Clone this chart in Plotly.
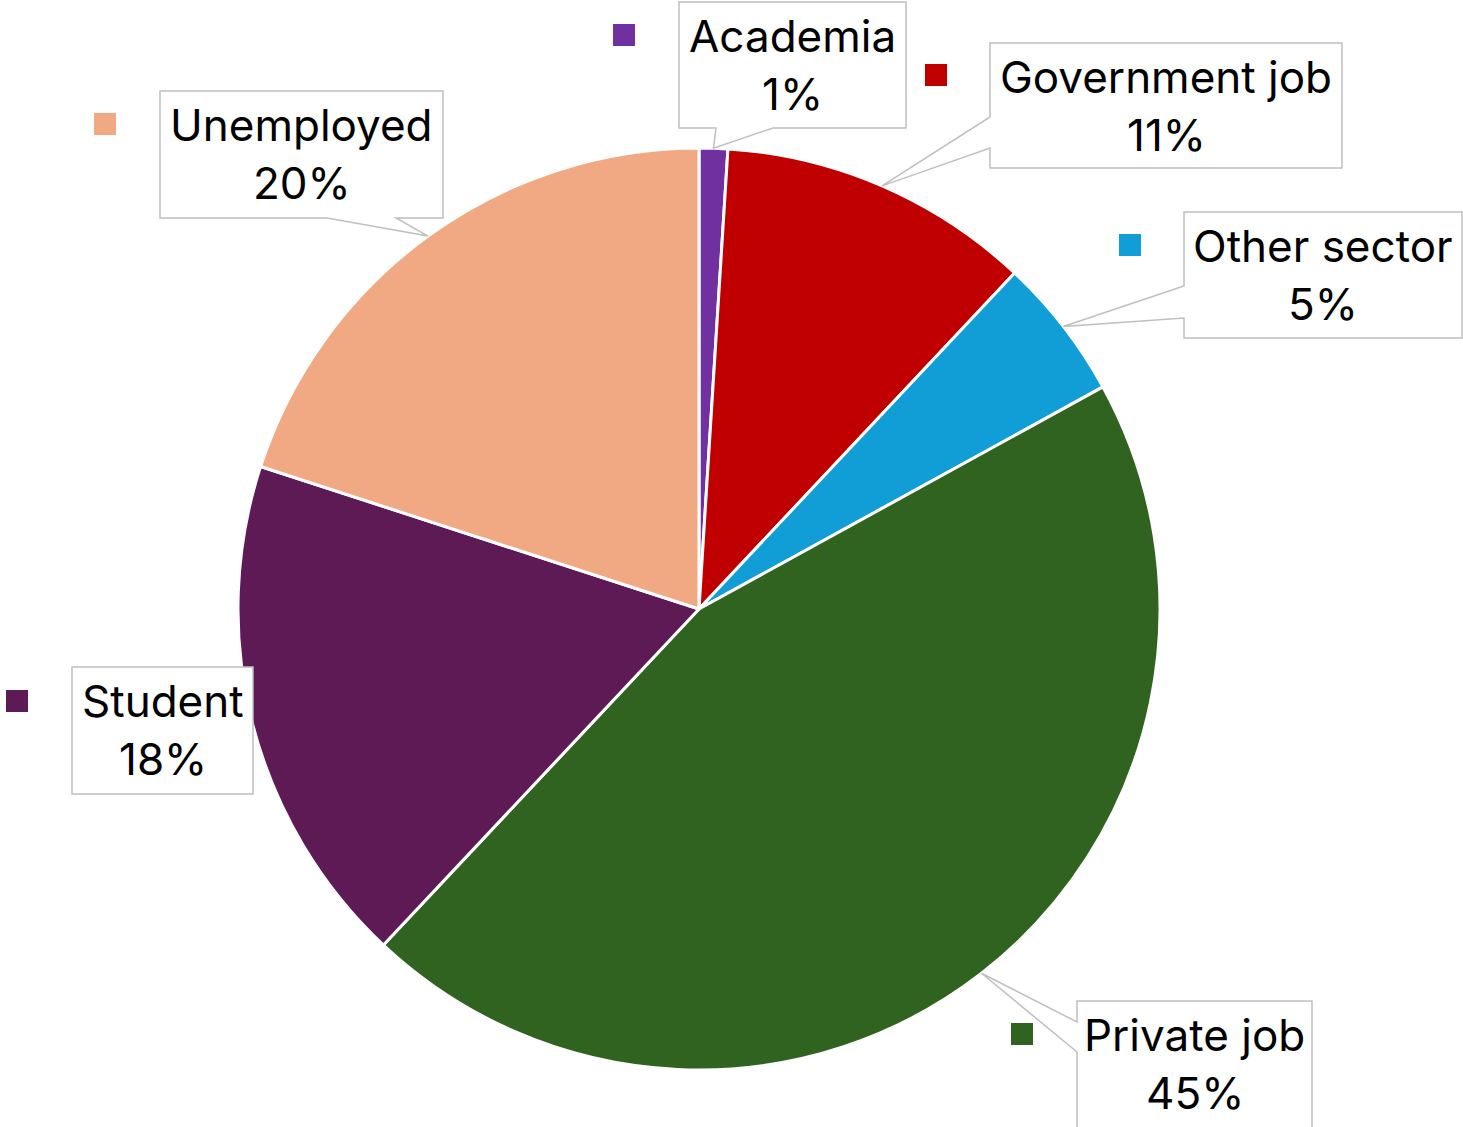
import math
import plotly.graph_objects as go

# Occupation breakdown (percent of respondents)
categories = ["Academia", "Government job", "Other sector", "Private job", "Student", "Unemployed"]
shares = [1, 11, 5, 45, 18, 20]
colors = ["#7030A0", "#C00000", "#119ED6", "#306320", "#5E1A55", "#F1A983"]

W, H = 1463, 1127
CX, CY, R = 699, 609, 461  # pie centre and radius in pixels

# Callout boxes (pixel coords) and where their pointer leaves the box
callouts = {
    "Academia":       dict(box=(679, 2, 906, 128),      side="bottom", base=(716, 773)),
    "Government job": dict(box=(990, 43, 1342, 168),    side="left",   base=(117, 148)),
    "Other sector":   dict(box=(1184, 212, 1462, 338),  side="left",   base=(286, 318)),
    "Private job":    dict(box=(1077, 1001, 1312, 1140), side="left",  base=(1022, 1052)),
    "Student":        dict(box=(72, 667, 253, 794),     side=None,     base=None),
    "Unemployed":     dict(box=(160, 91, 443, 218),     side="bottom", base=(327, 396)),
}
# Legend key squares beside each callout (top-left pixel corner)
keys = {
    "Academia": (613, 24), "Government job": (925, 64), "Other sector": (1119, 234),
    "Private job": (1011, 1023), "Student": (6, 690), "Unemployed": (94, 113),
}
KEY = 22
FONT = dict(family="Inter, Roboto, sans-serif", size=44, color="black")


def px(x):
    return x / W


def py(y):
    return 1 - y / H


fig = go.Figure(go.Pie(
    labels=categories,
    values=shares,
    sort=False,
    direction="clockwise",
    rotation=0,
    marker=dict(colors=colors, line=dict(color="white", width=3)),
    textinfo="none",
    hoverinfo="label+percent",
    showlegend=False,
    domain=dict(x=[(CX - R) / W, (CX + R) / W], y=[1 - (CY + R) / H, 1 - (CY - R) / H]),
))

total = sum(shares)
cum = 0
shapes = []
annotations = []
for name, v, col in zip(categories, shares, colors):
    theta = 2 * math.pi * (cum + v / 2) / total
    cum += v
    tip = (CX + R * math.sin(theta), CY - R * math.cos(theta))
    c = callouts[name]
    x0, y0, x1, y1 = c["box"]
    pts = [(x0, y0), (x1, y0), (x1, y1)]
    if c["side"] == "bottom":
        a, b = c["base"]
        pts += [(b, y1), tip, (a, y1), (x0, y1)]
    elif c["side"] == "left":
        a, b = c["base"]
        pts += [(x0, y1), (x0, b), tip, (x0, a)]
    else:
        pts += [(x0, y1)]
    path = "M " + " L ".join(f"{px(x):.5f},{py(y):.5f}" for x, y in pts) + " Z"
    shapes.append(dict(type="path", xref="paper", yref="paper", path=path,
                       fillcolor="white", line=dict(color="#BFBFBF", width=1.5)))
    kx, ky = keys[name]
    shapes.append(dict(type="rect", xref="paper", yref="paper",
                       x0=px(kx), x1=px(kx + KEY), y0=py(ky + KEY), y1=py(ky),
                       fillcolor=col, line=dict(width=0)))
    # two text lines: category name, then its share
    for text, dy in ((name, 34), (f"{round(100 * v / total)}%", 92)):
        annotations.append(dict(
            xref="paper", yref="paper", x=px((x0 + x1) / 2), y=py(y0 + dy),
            xanchor="center", yanchor="middle", showarrow=False,
            text=text, font=FONT,
        ))

fig.update_layout(
    width=W, height=H,
    margin=dict(l=0, r=0, t=0, b=0),
    paper_bgcolor="white", plot_bgcolor="white",
    shapes=shapes, annotations=annotations,
)
fig.write_html("out.html")
